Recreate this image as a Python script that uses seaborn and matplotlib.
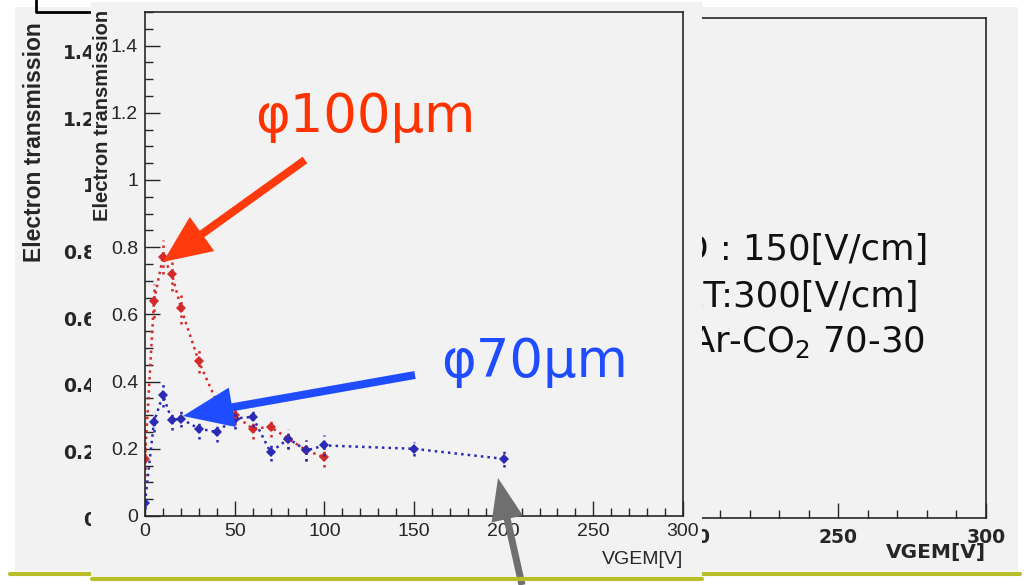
import numpy as np
import pandas as pd
import matplotlib
matplotlib.use("Agg")
import matplotlib.pyplot as plt
from matplotlib import font_manager
from matplotlib.patches import FancyArrow
import seaborn as sns

# electron transmission vs GEM voltage, two hole diameters
volt_100 = [0, 5, 10, 15, 20, 30, 40, 50, 60, 70, 80, 90, 100]
trans_100 = [0.17, 0.64, 0.77, 0.72, 0.62, 0.46, 0.34, 0.30, 0.26, 0.265, 0.23, 0.195, 0.175]
err_100 = [0.05, 0.05, 0.05, 0.05, 0.05, 0.035, 0.03, 0.03, 0.03, 0.03, 0.03, 0.03, 0.03]

volt_70 = [0, 5, 10, 15, 20, 30, 40, 50, 60, 70, 80, 90, 100, 150, 200]
trans_70 = [0.04, 0.28, 0.36, 0.285, 0.29, 0.26, 0.25, 0.29, 0.295, 0.19, 0.23, 0.195, 0.21, 0.20, 0.17]
err_70 = [0.02, 0.03, 0.035, 0.03, 0.025, 0.03, 0.03, 0.03, 0.03, 0.025, 0.03, 0.03, 0.03, 0.02, 0.025]

hole_labels = ["φ100μm", "φ70μm"]
cond_lines = ["ED : 150[V/cm]", "ET:300[V/cm]", "Ar-CO$_2$ 70-30"]
x_ticks = [0, 50, 100, 150, 200, 250, 300]
back_x_labels = ["", "", "", "", "200", "250", "300"]
y_ticks = [0, 0.2, 0.4, 0.6, 0.8, 1, 1.2, 1.4]
y_ticklabels = ["0", "0.2", "0.4", "0.6", "0.8", "1", "1.2", "1.4"]

RED = "#d42a2a"
BLUE = "#2a2ab4"
PANEL = "#f2f2f2"
OLIVE = "#b8bf2a"

sns.set_style("ticks")
names = {f.name for f in font_manager.fontManager.ttflist}
narrow = "Liberation Sans Narrow" if "Liberation Sans Narrow" in names else "Liberation Sans"
plt.rcParams["font.family"] = ["Liberation Sans", "DejaVu Sans"]
plt.rcParams["mathtext.fontset"] = "dejavusans"

W, H = 1026, 585


def box(x0, y0, x1, y1):
    return [x0 / W, 1 - y1 / H, (x1 - x0) / W, (y1 - y0) / H]


def pixel_axes():
    a = fig.add_axes([0, 0, 1, 1], facecolor="none")
    a.set_xlim(0, W)
    a.set_ylim(H, 0)
    a.axis("off")
    return a


fig = plt.figure(figsize=(W / 100, H / 100), dpi=100)
fig.patch.set_facecolor("white")

# back slide: gray panel + the larger (stretched) plot behind
bg = fig.add_axes(box(15, 7, 1018, 571))
bg.set_facecolor(PANEL)
bg.set_xticks([])
bg.set_yticks([])
for s in bg.spines.values():
    s.set_visible(False)

back = fig.add_axes(box(100, 18, 986, 518))
back.set_facecolor(PANEL)
back.set_xlim(0, 300)
back.set_ylim(0, 1.5)
back.set_xticks(x_ticks)
back.set_xticklabels(back_x_labels)
back.set_xticks(np.arange(0, 301, 10), minor=True)
back.set_yticks(y_ticks)
back.set_yticklabels(y_ticklabels)
back.set_yticks(np.arange(0, 1.51, 0.05), minor=True)
back.tick_params(which="major", direction="in", length=11, width=1, labelsize=13.5)
back.tick_params(axis="y", pad=3)
back.tick_params(axis="x", pad=7)
back.tick_params(which="minor", direction="in", length=6, width=1)
for lab in back.get_xticklabels() + back.get_yticklabels():
    lab.set_family("DejaVu Sans")
    lab.set_fontweight("bold")
for s in back.spines.values():
    s.set_linewidth(1.2)
back.text(1.0, -0.05, "VGEM[V]", transform=back.transAxes, ha="right", va="top",
          fontsize=14.5, fontweight="bold", family="DejaVu Sans")
fig.text(35 / W, 1 - 22 / H, "Electron transmission", rotation=90, ha="center", va="top",
         fontsize=16.5, fontweight="bold")
cond_right = [928, 919, 925]
cond_base = [260, 307, 352]
for line, xr, yb in zip(cond_lines, cond_right, cond_base):
    back.text((xr - 100) / 886, 1 - (yb - 18) / 500, line,
              transform=back.transAxes, ha="right", va="baseline", fontsize=25.5,
              family="DejaVu Sans", color="#111111")

# slide frame bits
deco = pixel_axes()
deco.plot([36, 36, 92], [0, 12, 12], color="black", lw=2)
deco.plot([10, 1020], [574, 574], color=OLIVE, lw=3)

# front screenshot panel
front_bg = fig.add_axes(box(91, 2, 702, 576))
front_bg.set_facecolor(PANEL)
front_bg.set_xticks([])
front_bg.set_yticks([])
for s in front_bg.spines.values():
    s.set_visible(False)

ax = fig.add_axes(box(145, 12, 683, 516))
ax.set_facecolor(PANEL)

df = pd.concat([
    pd.DataFrame({"VGEM": volt_100, "trans": trans_100, "err": err_100, "hole": hole_labels[0]}),
    pd.DataFrame({"VGEM": volt_70, "trans": trans_70, "err": err_70, "hole": hole_labels[1]}),
])
pal = {hole_labels[0]: RED, hole_labels[1]: BLUE}
sns.lineplot(data=df, x="VGEM", y="trans", hue="hole", palette=pal, estimator=None, sort=False,
             marker="D", markersize=5, markeredgewidth=0, linestyle=":", linewidth=1.8,
             legend=False, ax=ax)
for hole, sub in df.groupby("hole"):
    eb = ax.errorbar(sub["VGEM"], sub["trans"], yerr=sub["err"], fmt="none",
                     ecolor=pal[hole], elinewidth=1.8, capsize=0)
    eb.lines[2][0].set_linestyle(":")

ax.set_xlim(0, 300)
ax.set_ylim(0, 1.5)
ax.set_xticks(x_ticks)
ax.set_xticks(np.arange(0, 301, 10), minor=True)
ax.set_yticks(y_ticks)
ax.set_yticklabels(y_ticklabels)
ax.set_yticks(np.arange(0, 1.51, 0.05), minor=True)
ax.tick_params(which="major", direction="in", length=11, width=1, labelsize=14, pad=5)
ax.tick_params(which="minor", direction="in", length=5.5, width=1)
for lab in ax.get_xticklabels() + ax.get_yticklabels():
    lab.set_family(narrow)
ax.set_xlabel("")
ax.set_ylabel("")
for s in ax.spines.values():
    s.set_linewidth(1.2)
ax.text(1.0, -0.07, "VGEM[V]", transform=ax.transAxes, ha="right", va="top",
        fontsize=14, family=narrow)
fig.text(102 / W, 1 - 10 / H, "Electron transmission", rotation=90, ha="center", va="top",
         fontsize=14.5, fontweight="bold")

top = pixel_axes()
top.plot([92, 702], [579, 579], color=OLIVE, lw=3)

# annotations: arrows and hole-size labels
top.add_patch(FancyArrow(305, 160, 163 - 305, 262 - 160, width=8, head_width=42,
                         head_length=48, length_includes_head=True, color="#ff3a0d", lw=0))
top.add_patch(FancyArrow(415, 375, 183 - 415, 416 - 375, width=8, head_width=40,
                         head_length=50, length_includes_head=True, color="#1f4cff", lw=0))
top.add_patch(FancyArrow(522, 585, 498 - 522, 478 - 585, width=7, head_width=32,
                         head_length=42, length_includes_head=True, color="#6f6f6f", lw=0))
top.text(365, 117, hole_labels[0], ha="center", va="center", fontsize=38,
         color="#ff3300", family="DejaVu Sans")
top.text(535, 362, hole_labels[1], ha="center", va="center", fontsize=38,
         color="#1f4cff", family="DejaVu Sans")

fig.savefig("out.png", dpi=100)
